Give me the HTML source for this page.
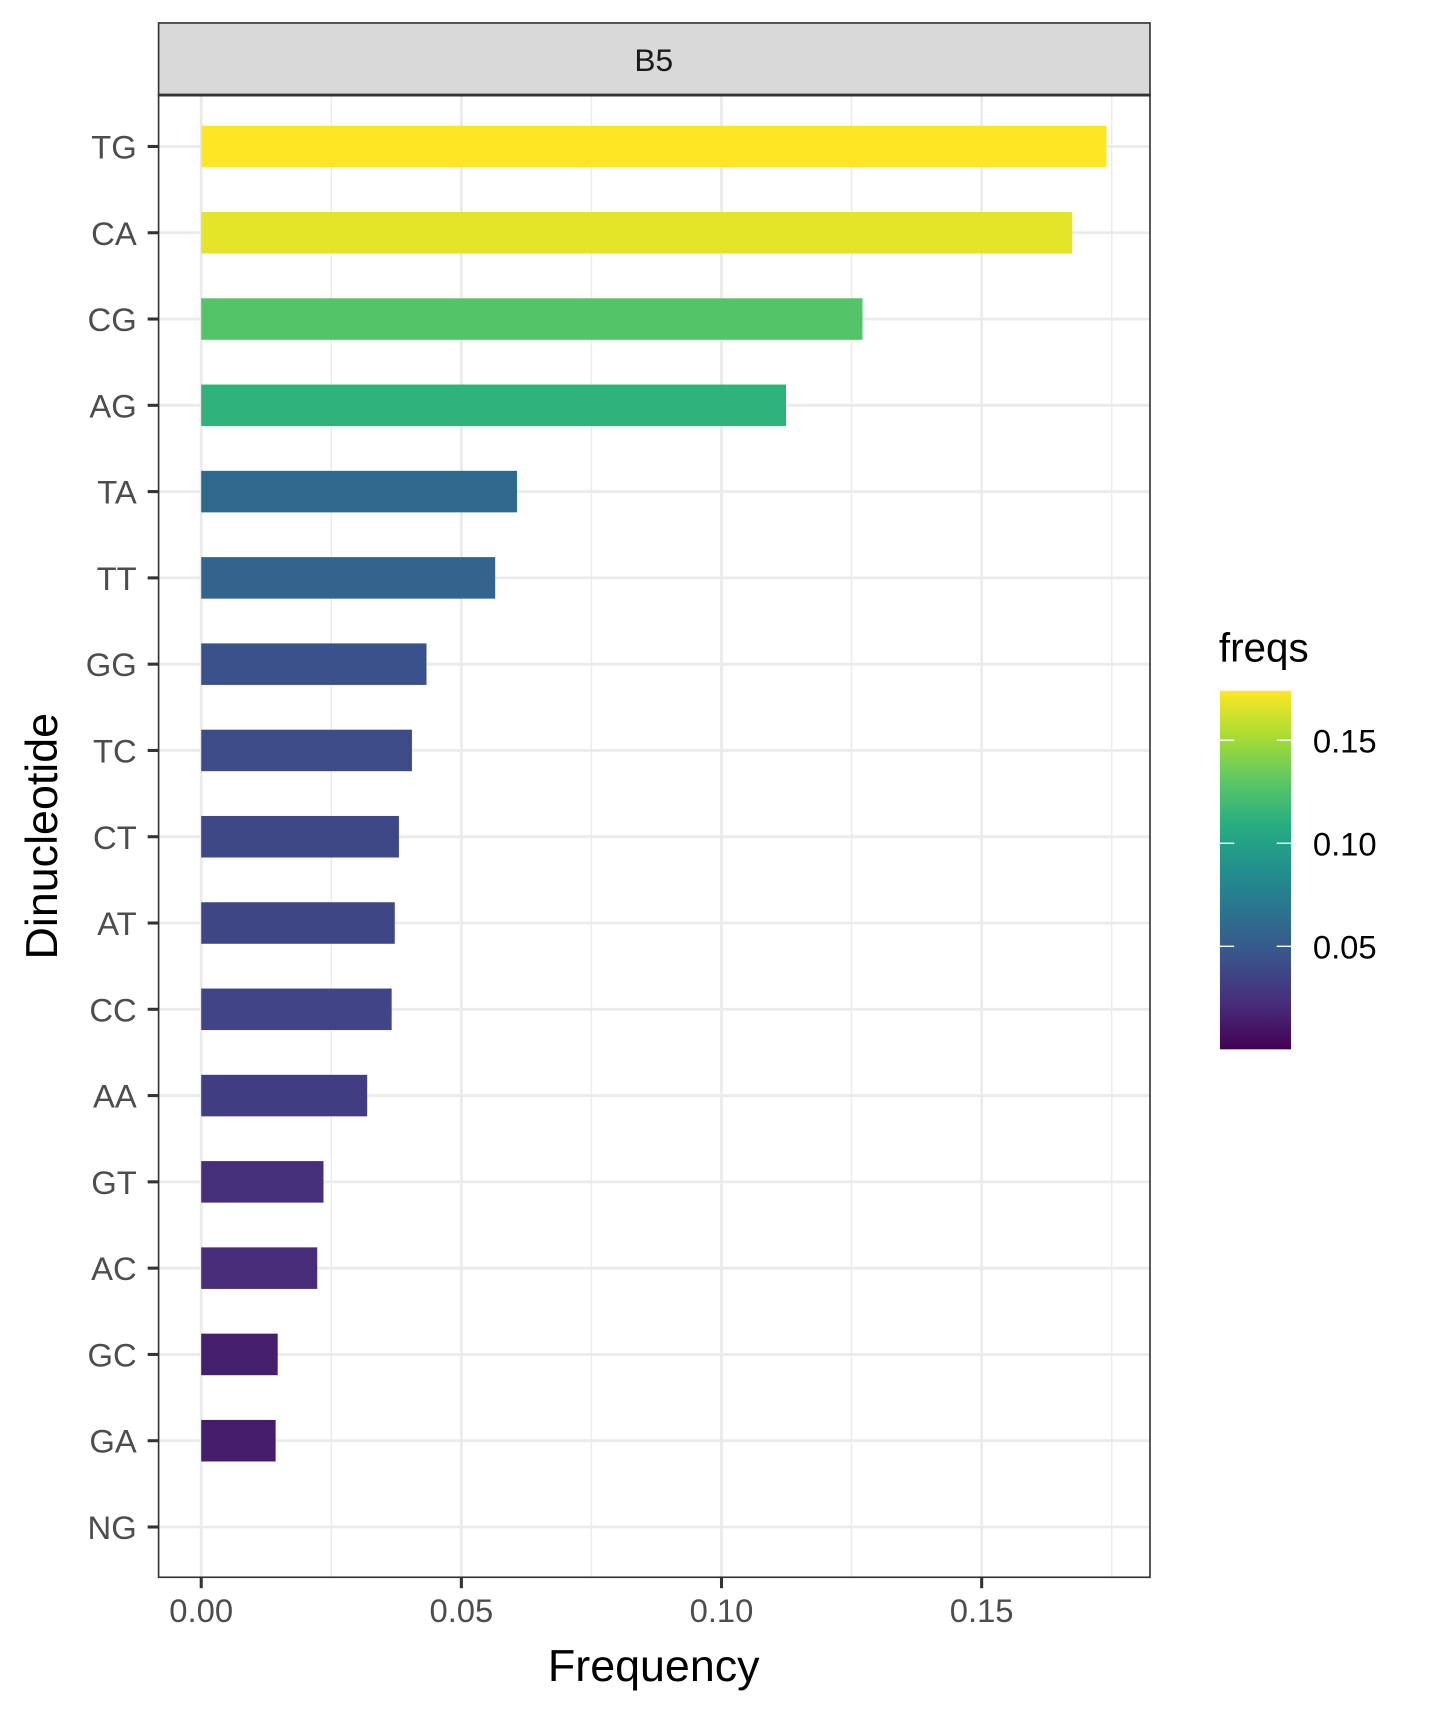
<!DOCTYPE html>
<html><head><meta charset="utf-8"><style>
html,body{margin:0;padding:0;background:#fff}
svg{display:block;font-family:"Liberation Sans",Arial,sans-serif}
</style></head><body>
<svg id="chart" width="1431" height="1715" viewBox="0 0 1309 1569">
<defs>
<linearGradient id="vir" x1="0" y1="1" x2="0" y2="0">
<stop offset="0" stop-color="#440154"/><stop offset="0.125" stop-color="#472c7a"/>
<stop offset="0.25" stop-color="#3b518b"/><stop offset="0.375" stop-color="#2c718e"/>
<stop offset="0.5" stop-color="#21908d"/><stop offset="0.625" stop-color="#27ad81"/>
<stop offset="0.75" stop-color="#5cc863"/><stop offset="0.875" stop-color="#aadc32"/>
<stop offset="1" stop-color="#fde725"/>
</linearGradient>
</defs>
<g id="grid"></g>
<g id="bars"></g>
<rect x="145" y="87" width="907" height="1356" fill="none" stroke="#333" stroke-width="1.5"/>
<rect x="145" y="21" width="907" height="66" fill="#d9d9d9" stroke="#333" stroke-width="1.5"/>
<line x1="145" x2="1052" y1="87" y2="87" stroke="#333" stroke-width="2.6"/>
<text x="598" y="65" text-anchor="middle" font-size="29" fill="#1a1a1a">B5</text>
<g id="axes"></g>
<text x="598" y="1538" text-anchor="middle" font-size="41" fill="#000">Frequency</text>
<text transform="translate(52,765) rotate(-90)" text-anchor="middle" font-size="41" fill="#000">Dinucleotide</text>
<text x="1115" y="605" font-size="37" fill="#000">freqs</text>
<rect x="1116" y="632" width="65" height="328" fill="url(#vir)"/>
<g id="legend"></g>
</svg>
<script>
const categories=["TG","CA","CG","AG","TA","TT","GG","TC","CT","AT","CC","AA","GT","AC","GC","GA","NG"];
const freqs=[0.174,0.1674,0.1271,0.1124,0.0607,0.0565,0.0433,0.0405,0.038,0.0372,0.0366,0.0319,0.0235,0.0223,0.0147,0.0143,0];
const xTicks=[0,0.05,0.10,0.15];
const xTickLabels=["0.00","0.05","0.10","0.15"];
const legendTicks=[0.05,0.10,0.15];
const legendLabels=["0.05","0.10","0.15"];

const NS="http://www.w3.org/2000/svg";
function x(v){return 184+v*4760;}
function y(i){return 134+i*(1397-134)/16;}
function lg(v){return 960-(v/0.174)*328;}
const vir=["#440154","#472c7a","#3b518b","#2c718e","#21908d","#27ad81","#5cc863","#aadc32","#fde725"];
function hex(h){return [1,3,5].map(i=>parseInt(h.substr(i,2),16));}
function color(v){let t=Math.max(0,Math.min(1,v/0.174))*8;let i=Math.min(7,Math.floor(t));let f=t-i;
 const a=hex(vir[i]),b=hex(vir[i+1]);return "rgb("+a.map((c,k)=>Math.round(c+(b[k]-c)*f)).join(",")+")";}
function el(tag,attrs,parent){const e=document.createElementNS(NS,tag);for(const k in attrs)e.setAttribute(k,attrs[k]);parent.appendChild(e);return e;}
const grid=document.getElementById('grid'),bars=document.getElementById('bars'),axes=document.getElementById('axes'),legend=document.getElementById('legend');
for(let k=0;k<xTicks.length;k++){
 const mv=xTicks[k]+0.025;
 const m=el('line',{x1:x(mv),x2:x(mv),y1:87,y2:1443,stroke:'#ebebeb','stroke-width':1.3},grid);
 
 
 const g=el('line',{x1:x(xTicks[k]),x2:x(xTicks[k]),y1:87,y2:1443,stroke:'#ebebeb','stroke-width':2.6},grid);
 
 
 const t=el('line',{x1:x(xTicks[k]),x2:x(xTicks[k]),y1:1443,y2:1453,stroke:'#333','stroke-width':2.8},axes);
 
 
 const l=el('text',{x:x(xTicks[k]),y:1484,'text-anchor':'middle','font-size':30,fill:'#4d4d4d'},axes);
 l.textContent=xTickLabels[k];
 
 
}
categories.forEach((c,i)=>{
 const g=el('line',{x1:145,x2:1052,y1:y(i),y2:y(i),stroke:'#ebebeb','stroke-width':2.6},grid);
 
 
 if(freqs[i]>0){
  const b=el('rect',{x:x(0),y:y(i)-19,width:x(freqs[i])-x(0),height:38,fill:color(freqs[i])},bars);
  
  
 }
 const t=el('line',{x1:135,x2:145,y1:y(i),y2:y(i),stroke:'#333','stroke-width':2.8},axes);
 
 
 const l=el('text',{x:125,y:y(i)+11,'text-anchor':'end','font-size':30,fill:'#4d4d4d'},axes);
 l.textContent=c;
 
 
});
legendTicks.forEach((v,k)=>{
 const a=el('line',{x1:1116,x2:1129,y1:lg(v),y2:lg(v),stroke:'#fff','stroke-width':1.3},legend);
 
 
 const b=el('line',{x1:1168,x2:1181,y1:lg(v),y2:lg(v),stroke:'#fff','stroke-width':1.3},legend);
 
 
 const l=el('text',{x:1201,y:lg(v)+11,'font-size':30,fill:'#000'},legend);
 l.textContent=legendLabels[k];
 
 
});
</script>
</body></html>
